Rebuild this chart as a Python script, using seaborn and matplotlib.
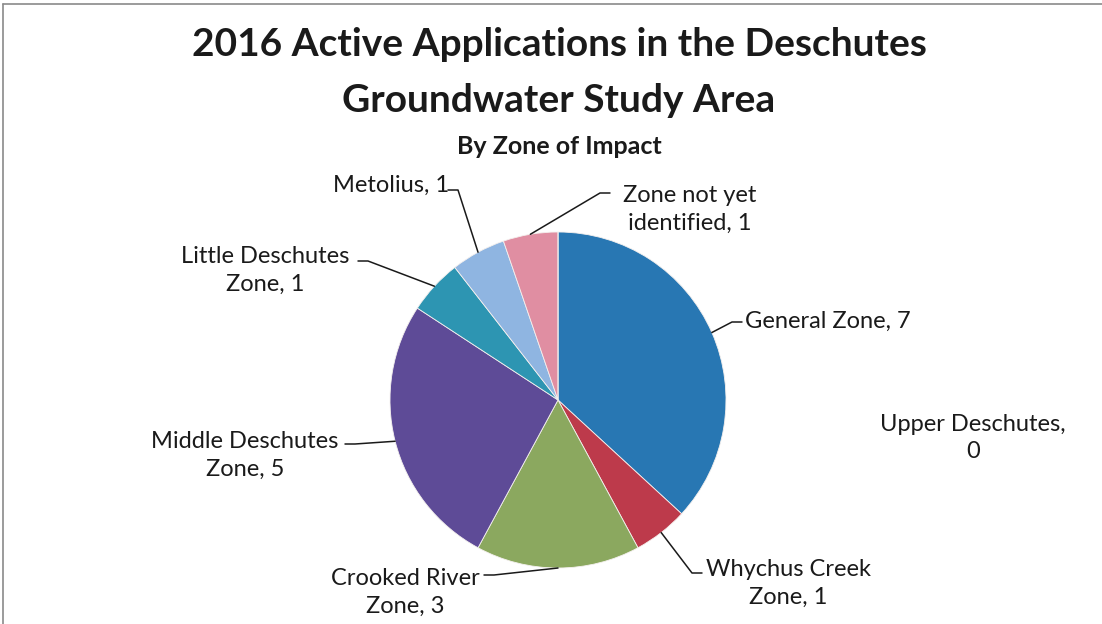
import numpy as np
import matplotlib
matplotlib.use("Agg")
import matplotlib.pyplot as plt
from matplotlib.lines import Line2D
import seaborn as sns

# Active applications by zone of impact (clockwise from 12 o'clock)
zones = ["General Zone", "Whychus Creek\nZone", "Crooked River\nZone",
         "Middle Deschutes\nZone", "Little Deschutes\nZone", "Metolius",
         "Zone not yet\nidentified", "Upper Deschutes"]
counts = [7, 1, 3, 5, 1, 1, 1, 0]
colors = ["#2877b3", "#bd3a4b", "#8ba85f", "#5e4b97",
          "#2d95b2", "#8fb5e1", "#e08ea2", "#f0a050"]

sns.set_style("white")
plt.rcParams["font.family"] = ["Lato", "DejaVu Sans"]

W, H = 1102, 624
fig = plt.figure(figsize=(W / 100, H / 100), dpi=100)
ax = fig.add_axes([0, 0, 1, 1])

cx, cy, r = 558, H - 400, 168
wedges, _ = ax.pie(counts, colors=colors, startangle=90, counterclock=False,
                   center=(cx, cy), radius=r, frame=True,
                   wedgeprops=dict(linewidth=0.6, edgecolor="#f4f0ee"))
ax.set_xlim(0, W)
ax.set_ylim(0, H)
ax.axis("off")

# label placement: (text x, text y, horizontal alignment, leader end x, leader end y)
layout = {
    0: (745, H - 321, "left", 742, H - 322),
    1: (788, H - 583, "center", 702, H - 573),
    2: (405, H - 592, "center", 484, H - 575),
    3: (245, H - 455, "center", 345, H - 444),
    4: (265, H - 270, "center", 358, H - 261),
    5: (391, H - 185, "center", 448, H - 190),
    6: (690, H - 209, "center", 610, H - 193),
}

text_color = "#1a1a1a"
label_size = 17
for i, (name, val) in enumerate(zip(zones, counts)):
    if val == 0:
        continue
    w = wedges[i]
    mid = np.deg2rad((w.theta1 + w.theta2) / 2)
    ex, ey = cx + r * np.cos(mid), cy + r * np.sin(mid)
    tx, ty, ha, kx, ky = layout[i]
    # elbow leader: edge -> knee -> short horizontal run toward the label
    if kx > cx:
        ax.plot([ex, kx - 10, kx], [ey, ky, ky], color=text_color, lw=1.1)
    else:
        ax.plot([ex, kx + 10, kx], [ey, ky, ky], color=text_color, lw=1.1)
    ax.text(tx, ty, f"{name}, {val}", ha=ha, va="center", fontsize=label_size,
            color=text_color, linespacing=1.4)

# zero-count zone has no wedge; its label sits apart
zero_idx = counts.index(0)
ax.text(973, H - 438, f"{zones[zero_idx]},\n{counts[zero_idx]}", ha="center",
        va="center", fontsize=label_size, color=text_color, linespacing=1.4)

ax.text(W / 2 + 8, H - 45, "2016 Active Applications in the Deschutes",
        ha="center", va="center", fontsize=28, fontweight="bold", color=text_color)
ax.text(W / 2 + 8, H - 100, "Groundwater Study Area",
        ha="center", va="center", fontsize=28, fontweight="bold", color=text_color)
ax.text(W / 2 + 8, H - 146, "By Zone of Impact",
        ha="center", va="center", fontsize=18, fontweight="bold", color=text_color)

# chart frame
fig.add_artist(Line2D([3 / W, 1], [1 - 4 / H, 1 - 4 / H], color="#8a8a8a", lw=1.2))
fig.add_artist(Line2D([3 / W, 3 / W], [0, 1 - 4 / H], color="#8a8a8a", lw=1.2))

fig.savefig("out.png", dpi=100, facecolor="white")
